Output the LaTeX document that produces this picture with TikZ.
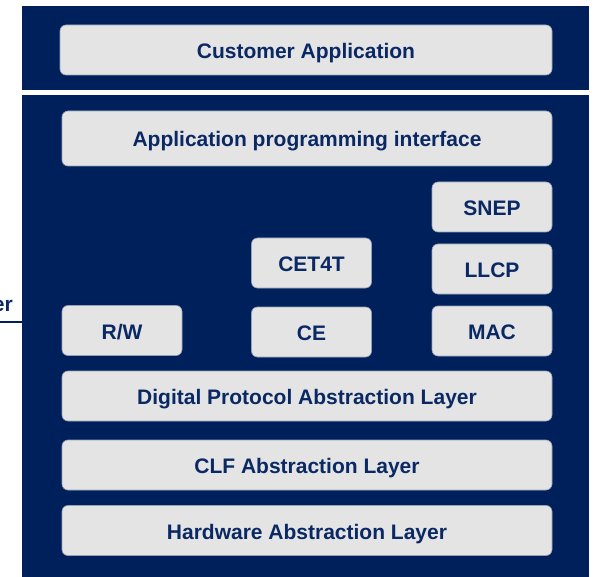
\documentclass[tikz,border=0pt]{standalone}
\usepackage{fontspec}
\setmainfont{Liberation Sans}
\definecolor{navy}{RGB}{0,32,92}
\definecolor{inkblue}{RGB}{10,40,100}
\definecolor{boxgray}{RGB}{228,228,228}
\definecolor{rimgray}{RGB}{150,160,180}
\tikzset{
  layer/.style={draw=rimgray, line width=0.6pt, fill=boxgray, rounded corners=6pt,
    inner sep=0pt, text height=18pt, text depth=1pt, text=inkblue,
    font=\fontsize{21}{24}\selectfont\bfseries},
  wide/.style={layer, minimum width=490pt, minimum height=50pt},
  small/.style={layer, minimum width=120pt, minimum height=50pt},
  panel/.style={fill=navy, draw=none}
}
\begin{document}
\begin{tikzpicture}[x=1pt,y=-1pt]
\useasboundingbox[fill=white] (0,0) rectangle (594,577);

\fill[panel] (22,6) rectangle (589,90);
\fill[panel] (22,95) rectangle (589,577);

\node[wide, minimum width=492pt] (cust) at (306,50) {Customer Application};
\node[wide, minimum height=55pt] (api) at (307,138.5) {Application programming interface};

\node[small] (snep) at (492,207) {SNEP};
\node[small] (llcp) at (492,269) {LLCP};
\node[small] (mac) at (492,331) {MAC};
\node[small] (cet) at (311.5,263) {CET4T};
\node[small] (ce) at (311.5,332) {CE};
\node[small] (rw) at (122,330.5) {R/W};

\node[wide] (dpal) at (307,396) {Digital Protocol Abstraction Layer};
\node[wide] (clf) at (307,465) {CLF Abstraction Layer};
\node[wide] (hal) at (307,530.5) {Hardware Abstraction Layer};

% cut-off label on the left
\node[anchor=base east, inner sep=0pt, text=inkblue, font=\fontsize{21}{24}\selectfont\bfseries] (lbl) at (13,311) {er};
\coordinate (lft) at (0,322);
\coordinate (pnl) at (22,322);
\draw[navy, line width=2pt] (lft) -- (pnl);
\end{tikzpicture}
\end{document}
